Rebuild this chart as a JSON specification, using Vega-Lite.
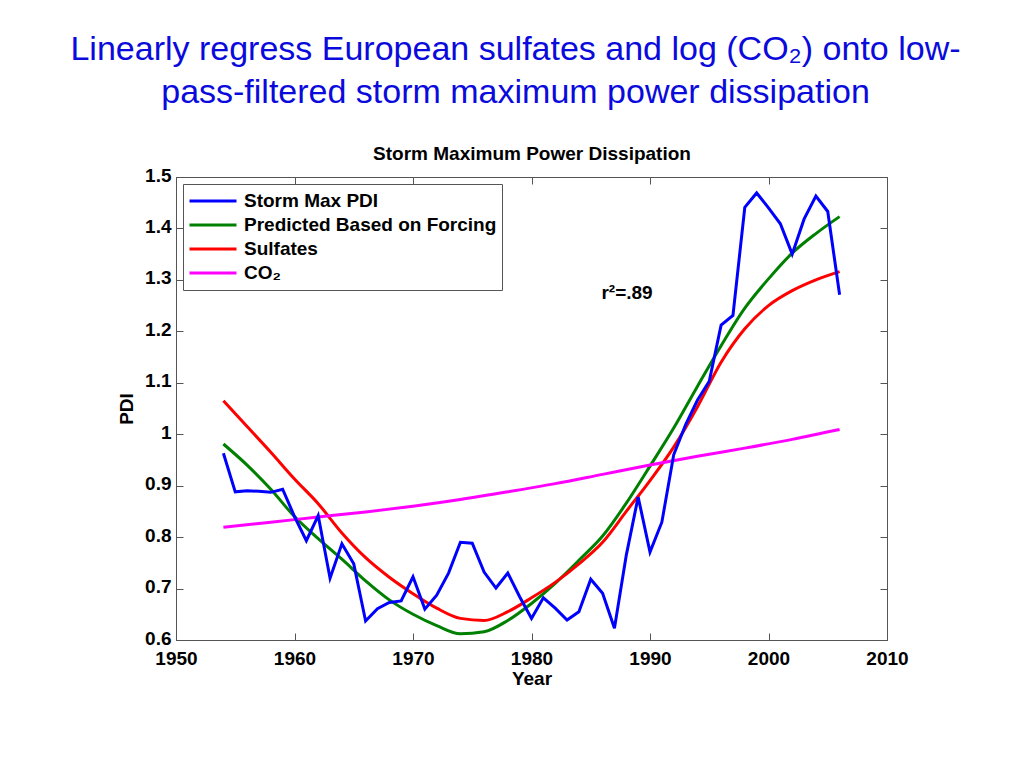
{
  "$schema": "https://vega.github.io/schema/vega-lite/v6.json",
  "width": 711,
  "height": 463,
  "autosize": {"type": "none"},
  "padding": {"left": 176, "top": 177, "right": 137, "bottom": 128},
  "background": "white",
  "config": {
    "font": "Liberation Sans",
    "view": {"stroke": "#555", "strokeWidth": 1}
  },
  "title": {
    "text": ["Linearly regress European sulfates and log (CO₂) onto low-", "pass-filtered storm maximum power dissipation"],
    "fontSize": 34,
    "font": "Liberation Sans",
    "fontWeight": "normal",
    "color": "#0A0ADD",
    "anchor": "middle",
    "frame": "group",
    "dx": -16,
    "offset": 35,
    "lineHeight": 43
  },
  "datasets": {
    "pdi": [
      {"Year": 1954, "PDI": 0.963, "Series": "Storm Max PDI"},
      {"Year": 1955, "PDI": 0.888, "Series": "Storm Max PDI"},
      {"Year": 1956, "PDI": 0.890, "Series": "Storm Max PDI"},
      {"Year": 1957, "PDI": 0.889, "Series": "Storm Max PDI"},
      {"Year": 1958, "PDI": 0.887, "Series": "Storm Max PDI"},
      {"Year": 1959, "PDI": 0.893, "Series": "Storm Max PDI"},
      {"Year": 1960, "PDI": 0.840, "Series": "Storm Max PDI"},
      {"Year": 1961, "PDI": 0.793, "Series": "Storm Max PDI"},
      {"Year": 1962, "PDI": 0.842, "Series": "Storm Max PDI"},
      {"Year": 1963, "PDI": 0.720, "Series": "Storm Max PDI"},
      {"Year": 1964, "PDI": 0.787, "Series": "Storm Max PDI"},
      {"Year": 1965, "PDI": 0.748, "Series": "Storm Max PDI"},
      {"Year": 1966, "PDI": 0.637, "Series": "Storm Max PDI"},
      {"Year": 1967, "PDI": 0.661, "Series": "Storm Max PDI"},
      {"Year": 1968, "PDI": 0.673, "Series": "Storm Max PDI"},
      {"Year": 1969, "PDI": 0.676, "Series": "Storm Max PDI"},
      {"Year": 1970, "PDI": 0.723, "Series": "Storm Max PDI"},
      {"Year": 1971, "PDI": 0.660, "Series": "Storm Max PDI"},
      {"Year": 1972, "PDI": 0.687, "Series": "Storm Max PDI"},
      {"Year": 1973, "PDI": 0.730, "Series": "Storm Max PDI"},
      {"Year": 1974, "PDI": 0.790, "Series": "Storm Max PDI"},
      {"Year": 1975, "PDI": 0.788, "Series": "Storm Max PDI"},
      {"Year": 1976, "PDI": 0.732, "Series": "Storm Max PDI"},
      {"Year": 1977, "PDI": 0.701, "Series": "Storm Max PDI"},
      {"Year": 1978, "PDI": 0.730, "Series": "Storm Max PDI"},
      {"Year": 1979, "PDI": 0.684, "Series": "Storm Max PDI"},
      {"Year": 1980, "PDI": 0.642, "Series": "Storm Max PDI"},
      {"Year": 1981, "PDI": 0.682, "Series": "Storm Max PDI"},
      {"Year": 1982, "PDI": 0.662, "Series": "Storm Max PDI"},
      {"Year": 1983, "PDI": 0.639, "Series": "Storm Max PDI"},
      {"Year": 1984, "PDI": 0.655, "Series": "Storm Max PDI"},
      {"Year": 1985, "PDI": 0.718, "Series": "Storm Max PDI"},
      {"Year": 1986, "PDI": 0.691, "Series": "Storm Max PDI"},
      {"Year": 1987, "PDI": 0.623, "Series": "Storm Max PDI"},
      {"Year": 1988, "PDI": 0.765, "Series": "Storm Max PDI"},
      {"Year": 1989, "PDI": 0.878, "Series": "Storm Max PDI"},
      {"Year": 1990, "PDI": 0.771, "Series": "Storm Max PDI"},
      {"Year": 1991, "PDI": 0.829, "Series": "Storm Max PDI"},
      {"Year": 1992, "PDI": 0.960, "Series": "Storm Max PDI"},
      {"Year": 1993, "PDI": 1.018, "Series": "Storm Max PDI"},
      {"Year": 1994, "PDI": 1.066, "Series": "Storm Max PDI"},
      {"Year": 1995, "PDI": 1.103, "Series": "Storm Max PDI"},
      {"Year": 1996, "PDI": 1.212, "Series": "Storm Max PDI"},
      {"Year": 1997, "PDI": 1.231, "Series": "Storm Max PDI"},
      {"Year": 1998, "PDI": 1.441, "Series": "Storm Max PDI"},
      {"Year": 1999, "PDI": 1.469, "Series": "Storm Max PDI"},
      {"Year": 2000, "PDI": 1.440, "Series": "Storm Max PDI"},
      {"Year": 2001, "PDI": 1.409, "Series": "Storm Max PDI"},
      {"Year": 2002, "PDI": 1.350, "Series": "Storm Max PDI"},
      {"Year": 2003, "PDI": 1.418, "Series": "Storm Max PDI"},
      {"Year": 2004, "PDI": 1.463, "Series": "Storm Max PDI"},
      {"Year": 2005, "PDI": 1.433, "Series": "Storm Max PDI"},
      {"Year": 2006, "PDI": 1.271, "Series": "Storm Max PDI"}
    ],
    "fits": [
      {"Year": 1954, "PDI": 0.981, "Series": "Predicted Based on Forcing"},
      {"Year": 1956, "PDI": 0.940, "Series": "Predicted Based on Forcing"},
      {"Year": 1958, "PDI": 0.893, "Series": "Predicted Based on Forcing"},
      {"Year": 1960, "PDI": 0.840, "Series": "Predicted Based on Forcing"},
      {"Year": 1962, "PDI": 0.797, "Series": "Predicted Based on Forcing"},
      {"Year": 1964, "PDI": 0.757, "Series": "Predicted Based on Forcing"},
      {"Year": 1966, "PDI": 0.715, "Series": "Predicted Based on Forcing"},
      {"Year": 1968, "PDI": 0.678, "Series": "Predicted Based on Forcing"},
      {"Year": 1970, "PDI": 0.650, "Series": "Predicted Based on Forcing"},
      {"Year": 1972, "PDI": 0.628, "Series": "Predicted Based on Forcing"},
      {"Year": 1974, "PDI": 0.612, "Series": "Predicted Based on Forcing"},
      {"Year": 1976, "PDI": 0.616, "Series": "Predicted Based on Forcing"},
      {"Year": 1978, "PDI": 0.638, "Series": "Predicted Based on Forcing"},
      {"Year": 1980, "PDI": 0.671, "Series": "Predicted Based on Forcing"},
      {"Year": 1982, "PDI": 0.710, "Series": "Predicted Based on Forcing"},
      {"Year": 1984, "PDI": 0.755, "Series": "Predicted Based on Forcing"},
      {"Year": 1986, "PDI": 0.802, "Series": "Predicted Based on Forcing"},
      {"Year": 1988, "PDI": 0.866, "Series": "Predicted Based on Forcing"},
      {"Year": 1990, "PDI": 0.938, "Series": "Predicted Based on Forcing"},
      {"Year": 1992, "PDI": 1.012, "Series": "Predicted Based on Forcing"},
      {"Year": 1994, "PDI": 1.093, "Series": "Predicted Based on Forcing"},
      {"Year": 1996, "PDI": 1.172, "Series": "Predicted Based on Forcing"},
      {"Year": 1998, "PDI": 1.245, "Series": "Predicted Based on Forcing"},
      {"Year": 2000, "PDI": 1.302, "Series": "Predicted Based on Forcing"},
      {"Year": 2002, "PDI": 1.352, "Series": "Predicted Based on Forcing"},
      {"Year": 2004, "PDI": 1.390, "Series": "Predicted Based on Forcing"},
      {"Year": 2006, "PDI": 1.423, "Series": "Predicted Based on Forcing"},
      {"Year": 1954, "PDI": 1.065, "Series": "Sulfates"},
      {"Year": 1956, "PDI": 1.015, "Series": "Sulfates"},
      {"Year": 1958, "PDI": 0.965, "Series": "Sulfates"},
      {"Year": 1960, "PDI": 0.913, "Series": "Sulfates"},
      {"Year": 1962, "PDI": 0.865, "Series": "Sulfates"},
      {"Year": 1964, "PDI": 0.808, "Series": "Sulfates"},
      {"Year": 1966, "PDI": 0.760, "Series": "Sulfates"},
      {"Year": 1968, "PDI": 0.722, "Series": "Sulfates"},
      {"Year": 1970, "PDI": 0.690, "Series": "Sulfates"},
      {"Year": 1972, "PDI": 0.662, "Series": "Sulfates"},
      {"Year": 1974, "PDI": 0.642, "Series": "Sulfates"},
      {"Year": 1976, "PDI": 0.638, "Series": "Sulfates"},
      {"Year": 1978, "PDI": 0.655, "Series": "Sulfates"},
      {"Year": 1980, "PDI": 0.682, "Series": "Sulfates"},
      {"Year": 1982, "PDI": 0.712, "Series": "Sulfates"},
      {"Year": 1984, "PDI": 0.748, "Series": "Sulfates"},
      {"Year": 1986, "PDI": 0.790, "Series": "Sulfates"},
      {"Year": 1988, "PDI": 0.850, "Series": "Sulfates"},
      {"Year": 1990, "PDI": 0.910, "Series": "Sulfates"},
      {"Year": 1992, "PDI": 0.975, "Series": "Sulfates"},
      {"Year": 1994, "PDI": 1.053, "Series": "Sulfates"},
      {"Year": 1996, "PDI": 1.140, "Series": "Sulfates"},
      {"Year": 1998, "PDI": 1.205, "Series": "Sulfates"},
      {"Year": 2000, "PDI": 1.250, "Series": "Sulfates"},
      {"Year": 2002, "PDI": 1.279, "Series": "Sulfates"},
      {"Year": 2004, "PDI": 1.300, "Series": "Sulfates"},
      {"Year": 2006, "PDI": 1.316, "Series": "Sulfates"},
      {"Year": 1954, "PDI": 0.819, "Series": "CO₂"},
      {"Year": 1958, "PDI": 0.829, "Series": "CO₂"},
      {"Year": 1962, "PDI": 0.839, "Series": "CO₂"},
      {"Year": 1966, "PDI": 0.849, "Series": "CO₂"},
      {"Year": 1970, "PDI": 0.860, "Series": "CO₂"},
      {"Year": 1974, "PDI": 0.873, "Series": "CO₂"},
      {"Year": 1978, "PDI": 0.888, "Series": "CO₂"},
      {"Year": 1982, "PDI": 0.904, "Series": "CO₂"},
      {"Year": 1986, "PDI": 0.922, "Series": "CO₂"},
      {"Year": 1990, "PDI": 0.940, "Series": "CO₂"},
      {"Year": 1994, "PDI": 0.957, "Series": "CO₂"},
      {"Year": 1998, "PDI": 0.973, "Series": "CO₂"},
      {"Year": 2002, "PDI": 0.990, "Series": "CO₂"},
      {"Year": 2006, "PDI": 1.009, "Series": "CO₂"}
    ],
    "note": [
      {"Year": 1985.9, "PDI": 1.275, "label": "r²=.89"}
    ]
  },
  "layer": [
    {
      "data": {"name": "fits"},
      "mark": {"type": "line", "strokeWidth": 3, "interpolate": "monotone"},
      "encoding": {
        "x": {
          "field": "Year", "type": "quantitative",
          "scale": {"domain": [1950, 2010], "nice": false, "zero": false},
          "axis": {
            "orient": "top", "labels": false, "grid": false,
            "values": [1950, 1960, 1970, 1980, 1990, 2000, 2010],
            "tickSize": -7, "tickColor": "#555", "domainColor": "#555",
            "title": "Storm Maximum Power Dissipation",
            "titleFontSize": 19, "titleFontWeight": "bold", "titleColor": "black",
            "titlePadding": 13
          }
        },
        "y": {
          "field": "PDI", "type": "quantitative",
          "scale": {"domain": [0.6, 1.5], "nice": false, "zero": false},
          "axis": {
            "orient": "right", "labels": false, "grid": false, "title": null,
            "values": [0.6, 0.7, 0.8, 0.9, 1.0, 1.1, 1.2, 1.3, 1.4, 1.5],
            "tickSize": -7, "tickColor": "#555", "domainColor": "#555"
          }
        },
        "color": {
          "field": "Series", "type": "nominal",
          "scale": {
            "domain": ["Storm Max PDI", "Predicted Based on Forcing", "Sulfates", "CO₂"],
            "range": ["#0000FF", "#008000", "#FF0000", "#FF00FF"]
          },
          "legend": {
            "orient": "top-left", "offset": 7, "title": null,
            "symbolType": "stroke", "symbolStrokeWidth": 3, "symbolSize": 2209,
            "labelFontSize": 19, "labelFontWeight": "bold", "labelColor": "black",
            "labelLimit": 400, "labelOffset": 6, "clipHeight": 24,
            "strokeColor": "#555", "fillColor": "white", "padding": 5, "rowPadding": 0
          }
        }
      }
    },
    {
      "data": {"name": "pdi"},
      "mark": {"type": "line", "strokeWidth": 3, "interpolate": "linear"},
      "encoding": {
        "x": {
          "field": "Year", "type": "quantitative",
          "axis": {
            "orient": "bottom", "grid": false,
            "values": [1950, 1960, 1970, 1980, 1990, 2000, 2010], "format": "d",
            "labelFlush": false, "labelOverlap": false,
            "tickSize": -7, "tickColor": "#555", "domainColor": "#555",
            "labelFontSize": 19, "labelFontWeight": "bold", "labelColor": "black", "labelPadding": 16,
            "title": "Year", "titleFontSize": 19, "titleFontWeight": "bold", "titleColor": "black", "titlePadding": 1
          }
        },
        "y": {
          "field": "PDI", "type": "quantitative",
          "axis": {
            "orient": "left", "grid": false,
            "values": [0.6, 0.7, 0.8, 0.9, 1.0, 1.1, 1.2, 1.3, 1.4, 1.5], "format": "~g",
            "labelFlush": false, "labelOverlap": false, "labelOffset": -2,
            "tickSize": -7, "tickColor": "#555", "domainColor": "#555",
            "labelFontSize": 19, "labelFontWeight": "bold", "labelColor": "black", "labelPadding": 12,
            "title": "PDI", "titleFontSize": 19, "titleFontWeight": "bold", "titleColor": "black", "titlePadding": 8
          }
        },
        "color": {"field": "Series", "type": "nominal"}
      }
    },
    {
      "data": {"name": "note"},
      "mark": {"type": "text", "align": "left", "baseline": "middle", "fontSize": 19, "fontWeight": "bold", "font": "Liberation Sans", "color": "black"},
      "encoding": {
        "x": {"field": "Year", "type": "quantitative", "axis": null},
        "y": {"field": "PDI", "type": "quantitative", "axis": null},
        "text": {"field": "label"}
      }
    }
  ],
  "resolve": {"axis": {"x": "independent", "y": "independent"}}
}
